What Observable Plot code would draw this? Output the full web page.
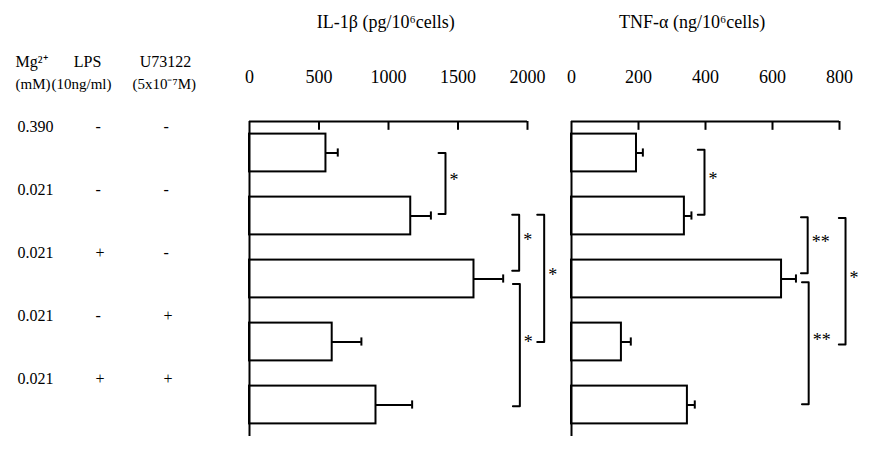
<!DOCTYPE html>
<html><head><meta charset="utf-8">
<script src="https://cdn.jsdelivr.net/npm/d3@7"></script>
<script src="https://cdn.jsdelivr.net/npm/@observablehq/plot@0.6"></script>
<style>
body{margin:0;background:#fff;}
#wrap{position:relative;width:869px;height:452px;overflow:hidden;background:#fff;}
#wrap svg{position:absolute;top:0;}
</style></head><body><div id="wrap"></div>
<script>
// Conditions (rows)
const mg = ["0.390", "0.021", "0.021", "0.021", "0.021"];
const lps = ["-", "-", "+", "-", "+"];
const u73122 = ["-", "-", "-", "+", "+"];
// IL-1β (pg/10^6 cells)
const il1b = [550, 1160, 1615, 595, 910];
const il1bErr = [85, 145, 210, 210, 260];
const ilTicks = [0, 500, 1000, 1500, 2000];
// TNF-α (ng/10^6 cells)
const tnf = [194, 337, 627, 149, 346];
const tnfErr = [19, 21, 43, 28, 22];
const tnfTicks = [0, 200, 400, 600, 800];
// significance brackets: x (data units), row span, label
const ilBrackets = [
  {x: 1410, y1: 0.0, y2: 0.97, label: "*"},
  {x: 1940, y1: 0.98, y2: 1.87, label: "*"},
  {x: 2120, y1: 0.98, y2: 3.0, label: "*"},
  {x: 1945, y1: 2.08, y2: 4.02, label: "*"}
];
const tnfBrackets = [
  {x: 397, y1: -0.05, y2: 0.98, label: "*"},
  {x: 705, y1: 1.02, y2: 1.91, label: "**"},
  {x: 818, y1: 1.03, y2: 3.04, label: "*"},
  {x: 708, y1: 2.05, y2: 3.99, label: "**"}
];

const rows = mg.map((m, i) => ({i, mg: m, lps: lps[i], u: u73122[i]}));
const font = "Liberation Serif, Times New Roman, serif";

function panel({values, errs, ticks, brackets, title, titleX, width, marginLeft, marginRight, left, extra = []}) {
  const xMax = ticks[ticks.length - 1];
  const capW = xMax * 0.025;
  const data = values.map((v, i) => ({i, v, e: errs[i]}));
  const bpts = brackets.flatMap((b, k) => [
    {k, x: b.x - capW, y: b.y1}, {k, x: b.x, y: b.y1},
    {k, x: b.x, y: b.y2}, {k, x: b.x - capW, y: b.y2}
  ]);
  const svg = Plot.plot({
    width, height: 452, marginLeft, marginRight, marginTop: 121, marginBottom: 16,
    x: {domain: [0, xMax], axis: null},
    y: {domain: [-0.5, 4.5], reverse: true, axis: null},
    style: {fontFamily: font, background: "transparent", overflow: "visible", color: "black"},
    marks: [
      // error bars
      Plot.ruleY(data, {y: "i", x1: "v", x2: d => d.v + d.e, stroke: "black", strokeWidth: 2}),
      Plot.ruleX(data, {x: d => d.v + d.e, y1: d => d.i - 0.065, y2: d => d.i + 0.065, stroke: "black", strokeWidth: 2}),
      // bars
      Plot.rect(data, {x1: 0, x2: "v", y1: d => d.i - 0.3, y2: d => d.i + 0.3, fill: "white", stroke: "black", strokeWidth: 2}),
      // axes
      Plot.ruleY([-0.5], {x1: 0, x2: xMax, stroke: "black", strokeWidth: 2}),
      Plot.ruleX([0], {y1: -0.5, y2: 4.5, stroke: "black", strokeWidth: 2}),
      Plot.ruleX(ticks.slice(1), {x: d => d, y1: -0.5, y2: -0.36, stroke: "black", strokeWidth: 2}),
      Plot.text(ticks, {x: d => d, frameAnchor: "top", lineAnchor: "middle", dy: -44, text: d => String(d), fontSize: 18, fill: "black"}),
      Plot.text([title], {x: () => titleX, frameAnchor: "top", lineAnchor: "middle", dy: -99, text: d => d, fontSize: 18, fill: "black"}),
      // brackets
      Plot.line(bpts, {x: "x", y: "y", z: "k", stroke: "black", strokeWidth: 2, curve: "linear"}),
      Plot.text(brackets, {x: "x", y: d => (d.y1 + d.y2) / 2, text: "label", textAnchor: "start", dx: 4, dy: -3, fontSize: 18, fill: "black"}),
      ...extra
    ]
  });
  svg.style.left = left + "px";
  return svg;
}

const hdr = (t, dx, dy, anchor = "middle", size = 16) =>
  Plot.text([t], {frameAnchor: "top-left", lineAnchor: "middle", textAnchor: anchor, dx, dy, text: d => d, fontSize: size, fill: "black"});

const tableMarks = [
  Plot.text(rows, {y: "i", text: "mg", frameAnchor: "left", dx: -232, dy: -26, textAnchor: "start", fontSize: 16, fill: "black"}),
  Plot.text(rows, {y: "i", text: "lps", frameAnchor: "left", dx: -154, dy: -26, fontSize: 16, fill: "black"}),
  Plot.text(rows, {y: "i", text: "u", frameAnchor: "left", dx: -86, dy: -26, fontSize: 16, fill: "black"}),
  hdr("Mg²⁺", -234, -60, "start"),
  hdr("LPS", -162, -60),
  hdr("U73122", -84, -60),
  hdr("(mM)", -234, -37, "start", 15),
  hdr("(10ng/ml)", -198, -37, "start", 15),
  hdr("(5x10⁻⁷M)", -117, -37, "start", 15)
];

const wrap = document.getElementById("wrap");
wrap.appendChild(panel({
  values: il1b, errs: il1bErr, ticks: ilTicks, brackets: ilBrackets,
  title: "IL-1β (pg/10⁶cells)", titleX: 980,
  width: 560, marginLeft: 249, marginRight: 33, left: 0, extra: tableMarks
}));
wrap.appendChild(panel({
  values: tnf, errs: tnfErr, ticks: tnfTicks, brackets: tnfBrackets,
  title: "TNF-α (ng/10⁶cells)", titleX: 360,
  width: 309, marginLeft: 11, marginRight: 30, left: 560
}));
</script></body></html>
